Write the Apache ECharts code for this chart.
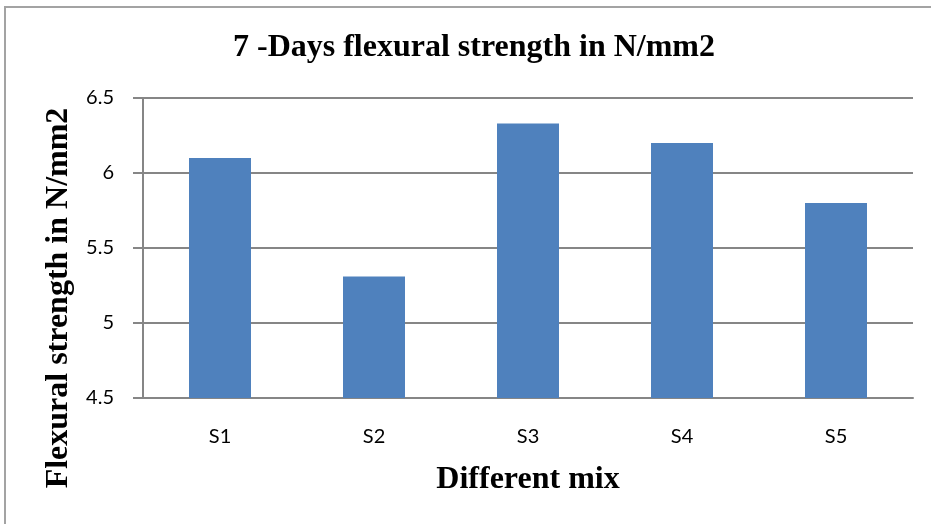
<!DOCTYPE html>
<html>
<head>
<meta charset="utf-8">
<script src="https://cdn.jsdelivr.net/npm/echarts@6/dist/echarts.min.js"></script>
<style>
html,body{margin:0;padding:0;background:#fff;}
#c{width:931px;height:524px;}
</style>
</head>
<body>
<div id="c"></div>
<script>
const categories = ['S1', 'S2', 'S3', 'S4', 'S5'];
const strengthValues = [6.1, 5.31, 6.33, 6.2, 5.8];
const yTicks = { min: 4.5, max: 6.5, interval: 0.5 };
const titleText = '7 -Days flexural strength in N/mm2';
const xTitle = 'Different mix';
const yTitle = 'Flexural strength in N/mm2';

const serifBold = { fontFamily: 'Liberation Serif', fontWeight: 'bold', fontSize: 32, color: '#000' };

const chart = echarts.init(document.getElementById('c'), null, { renderer: 'canvas' });
chart.setOption({
  backgroundColor: '#ffffff',
  animation: false,
  graphic: [{
    type: 'rect',
    shape: { x: 5, y: 7, width: 940, height: 540 },
    style: { fill: 'none', stroke: '#a3a3a3', lineWidth: 2 },
    silent: true
  }, {
    type: 'text',
    x: 59, y: 298,
    rotation: Math.PI / 2,
    style: {
      text: yTitle,
      font: 'bold 32px "Liberation Serif"',
      fill: '#000',
      textAlign: 'center',
      textVerticalAlign: 'middle'
    },
    silent: true
  }],
  title: {
    text: titleText,
    left: 469, top: 27, textAlign: 'center',
    textStyle: serifBold
  },
  grid: { left: 143, right: 18, top: 98, bottom: 126, containLabel: false },
  xAxis: {
    type: 'category',
    data: categories,
    name: xTitle,
    nameLocation: 'middle',
    nameGap: 66,
    nameTextStyle: serifBold,
    axisLine: { show: true, lineStyle: { color: '#868686', width: 2 } },
    axisTick: { show: false },
    axisLabel: { fontFamily: 'Lato', fontSize: 20, color: '#000', margin: 29 }
  },
  yAxis: {
    type: 'value',
    min: yTicks.min, max: yTicks.max, interval: yTicks.interval,
    axisLine: { show: true, lineStyle: { color: '#868686', width: 2 } },
    axisTick: { show: true, length: 10, lineStyle: { color: '#868686', width: 2 } },
    splitLine: { show: true, lineStyle: { color: '#868686', width: 2 } },
    axisLabel: { fontFamily: 'Lato', fontSize: 20, color: '#000', margin: 29, formatter: v => String(v) }
  },
  series: [{
    type: 'bar',
    data: strengthValues,
    barWidth: 62,
    itemStyle: { color: '#4F81BD' }
  }]
});
</script>
</body>
</html>
